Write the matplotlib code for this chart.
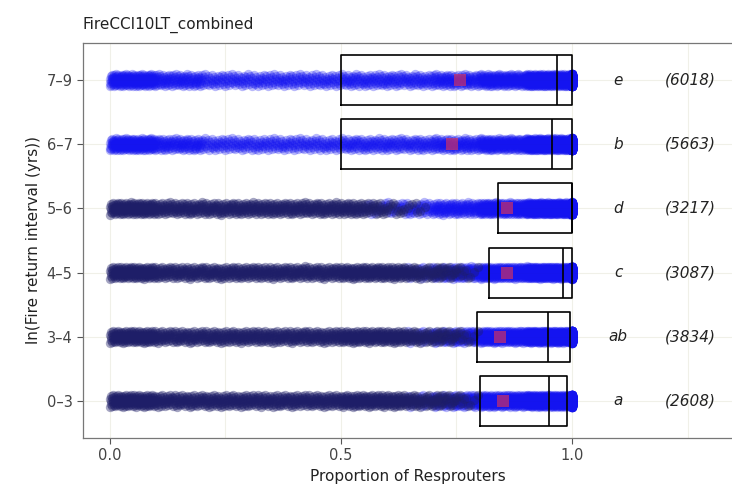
# strip chart of resprouter proportion by fire return interval
import numpy as np
from matplotlib import pyplot as plt

# categories, bottom to top
groups = ['0\u20133', '3\u20134', '4\u20135', '5\u20136', '6\u20137', '7\u20139']
letters = ['a', 'ab', 'c', 'd', 'b', 'e']
counts = [2608, 3834, 3087, 3217, 5663, 6018]

# box stats (proportion of resprouters)
q1 = [0.80, 0.795, 0.82, 0.84, 0.50, 0.50]
med = [0.95, 0.948, 0.98, 1.0, 0.957, 0.967]
q3 = [0.99, 0.995, 1.0, 1.0, 1.0, 1.0]
means = [0.85, 0.845, 0.86, 0.86, 0.74, 0.757]

# rough density of points in 0.1 bins (0-0.1 ... 0.9-1.0), plus the pile at 1.0
dens_03 = [120, 80, 80, 80, 80, 100, 100, 140, 200, 320]
dens_34 = [120, 80, 80, 80, 80, 100, 100, 140, 200, 340]
dens_45 = [120, 80, 80, 80, 80, 100, 100, 140, 200, 320]
dens_56 = [120, 80, 80, 80, 80, 80, 70, 100, 180, 360]
dens_67 = [160, 90, 60, 60, 60, 70, 70, 90, 140, 320]
dens_79 = [160, 90, 60, 60, 60, 70, 70, 90, 140, 320]
at_one = [400, 450, 400, 450, 500, 500]
dens = [dens_03, dens_34, dens_45, dens_56, dens_67, dens_79]

# where the dark navy points fade out in each row (style)
dark_cut = [0.80, 0.80, 0.80, 0.70, -1, -1]

fig = plt.figure(figsize=(7.32, 4.92), dpi=100)
ax = fig.add_axes([83/732, 54/492, 649/732, 395/492])

for i in range(len(groups)):
    xs = []
    for b, c in enumerate(dens[i]):
        xs.append(np.linspace(b*0.1, b*0.1 + 0.1, c, endpoint=False))
    xs.append(np.full(at_one[i], 1.0))
    xs = np.concatenate(xs)
    k = np.arange(len(xs))
    jit = ((k*0.618034) % 1 - 0.5)*0.19
    dark = xs < dark_cut[i] - ((k*0.414214) % 1)*0.18
    ax.scatter(xs[~dark], i + jit[~dark], s=45, color='#1414f0', alpha=0.3,
               linewidths=0, zorder=2)
    ax.scatter(xs[dark], i + jit[dark], s=45, color='#1e1e68', alpha=0.4,
               linewidths=0, zorder=2)

stats = []
for i in range(len(groups)):
    stats.append(dict(q1=q1[i], med=med[i], q3=q3[i], whislo=q1[i], whishi=q3[i], fliers=[]))
ax.bxp(stats, positions=range(len(groups)), widths=0.78, orientation='horizontal',
       showcaps=False, showfliers=False, patch_artist=False,
       boxprops=dict(color='black', lw=1.2), medianprops=dict(color='black', lw=1.2),
       whiskerprops=dict(lw=0), manage_ticks=False)
for art in ax.lines:
    art.set_zorder(3)

ax.scatter(means, range(len(groups)), s=70, marker='s', color='#e83450', alpha=0.6,
           linewidths=0, zorder=4)

for i in range(len(groups)):
    ax.text(1.10, i, letters[i], style='italic', fontsize=11, ha='center', va='center', color='#222222')
    ax.text(1.255, i, '(%d)' % counts[i], style='italic', fontsize=11, ha='center', va='center', color='#222222')

ax.set_xlim(-0.058, 1.346)
ax.set_ylim(-0.58, 5.58)
ax.set_xticks([0, 0.5, 1.0])
ax.set_xticklabels(['0.0', '0.5', '1.0'])
ax.set_xticks([0.25, 0.75, 1.25], minor=True)
ax.set_yticks(range(len(groups)))
ax.set_yticklabels(groups)
ax.grid(True, which='both', color='#f0f0e8', lw=0.8, zorder=0)
ax.set_axisbelow(True)
ax.tick_params(which='major', colors='#555555', labelcolor='#444444', labelsize=10.5, length=4)
ax.tick_params(which='minor', length=0)
for s in ['left', 'bottom', 'top']:
    ax.spines[s].set_color('#777777')
    ax.spines[s].set_linewidth(0.9)
ax.spines['right'].set_visible(False)

ax.set_xlabel('Proportion of Resprouters', fontsize=11, color='#222222')
ax.set_ylabel('ln(Fire return interval (yrs))', fontsize=11, color='#222222')
ax.set_title('FireCCI10LT_combined', loc='left', fontsize=11, color='#222222', pad=10)

plt.savefig('out.png', dpi=100)
